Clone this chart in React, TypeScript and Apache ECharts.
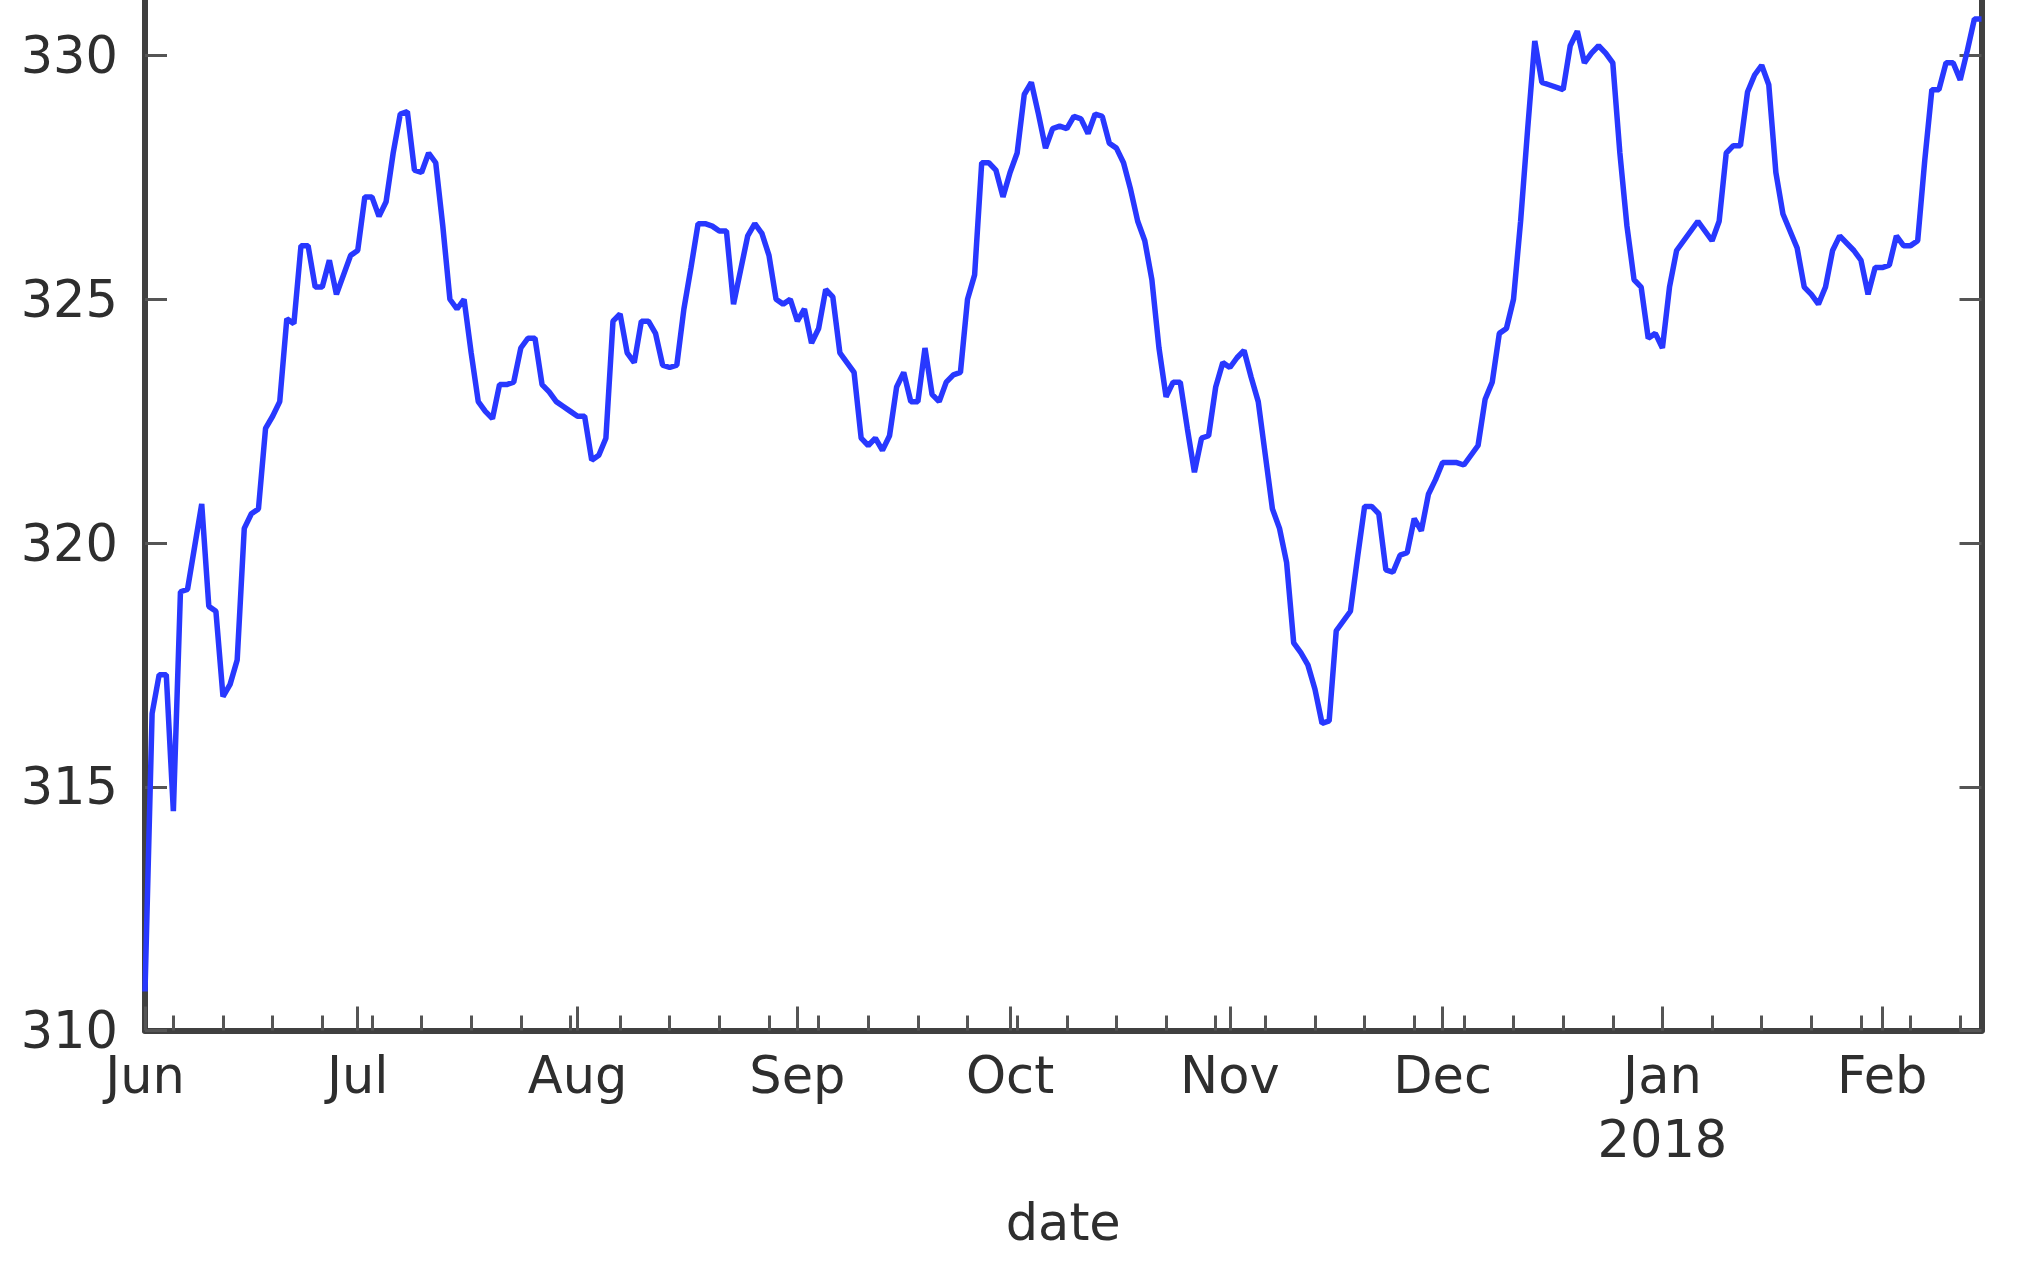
import React, { useEffect, useRef } from "react";
import * as echarts from "echarts";

// ---------- data ----------
const startDate = "2017-06-01";
const endDate = "2018-02-15";
const monthNames = ["Jan", "Feb", "Mar", "Apr", "May", "Jun", "Jul", "Aug", "Sep", "Oct", "Nov", "Dec"];
const yMin = 310;
const yMax = 335;
const yStep = 5;

const dates = [
  "2017-06-01", "2017-06-02", "2017-06-03", "2017-06-04", "2017-06-05", "2017-06-06", "2017-06-07", "2017-06-09",
  "2017-06-10", "2017-06-11", "2017-06-12", "2017-06-13", "2017-06-14", "2017-06-15", "2017-06-16", "2017-06-17",
  "2017-06-18", "2017-06-19", "2017-06-20", "2017-06-21", "2017-06-22", "2017-06-23", "2017-06-24", "2017-06-25",
  "2017-06-26", "2017-06-27", "2017-06-28", "2017-06-30",
  "2017-07-01", "2017-07-02", "2017-07-03", "2017-07-04", "2017-07-05", "2017-07-06", "2017-07-07", "2017-07-08",
  "2017-07-09", "2017-07-10", "2017-07-11", "2017-07-12", "2017-07-13", "2017-07-14", "2017-07-15", "2017-07-16",
  "2017-07-17", "2017-07-18", "2017-07-19", "2017-07-20", "2017-07-21", "2017-07-22", "2017-07-23", "2017-07-24",
  "2017-07-25", "2017-07-26", "2017-07-27", "2017-07-28", "2017-07-29", "2017-07-30", "2017-07-31",
  "2017-08-01", "2017-08-02", "2017-08-03", "2017-08-04", "2017-08-05", "2017-08-06", "2017-08-07", "2017-08-08",
  "2017-08-09", "2017-08-10", "2017-08-11", "2017-08-12", "2017-08-13", "2017-08-14", "2017-08-15", "2017-08-16",
  "2017-08-17", "2017-08-18", "2017-08-19", "2017-08-20", "2017-08-21", "2017-08-22", "2017-08-23", "2017-08-24",
  "2017-08-25", "2017-08-26", "2017-08-27", "2017-08-28", "2017-08-29", "2017-08-30", "2017-08-31",
  "2017-09-01", "2017-09-02", "2017-09-03", "2017-09-04", "2017-09-05", "2017-09-06", "2017-09-07", "2017-09-08",
  "2017-09-09", "2017-09-10", "2017-09-11", "2017-09-12", "2017-09-13", "2017-09-14", "2017-09-15", "2017-09-16",
  "2017-09-17", "2017-09-18", "2017-09-19", "2017-09-20", "2017-09-21", "2017-09-22", "2017-09-23", "2017-09-24",
  "2017-09-25", "2017-09-26", "2017-09-27", "2017-09-28", "2017-09-29", "2017-09-30",
  "2017-10-01", "2017-10-02", "2017-10-03", "2017-10-04", "2017-10-05", "2017-10-06", "2017-10-07", "2017-10-08",
  "2017-10-09", "2017-10-10", "2017-10-11", "2017-10-12", "2017-10-13", "2017-10-14", "2017-10-15", "2017-10-16",
  "2017-10-17", "2017-10-18", "2017-10-19", "2017-10-20", "2017-10-21", "2017-10-22", "2017-10-23", "2017-10-24",
  "2017-10-25", "2017-10-26", "2017-10-27", "2017-10-28", "2017-10-29", "2017-10-30", "2017-10-31",
  "2017-11-01", "2017-11-02", "2017-11-03", "2017-11-04", "2017-11-05", "2017-11-06", "2017-11-07", "2017-11-08",
  "2017-11-09", "2017-11-10", "2017-11-11", "2017-11-12", "2017-11-13", "2017-11-14", "2017-11-15", "2017-11-16",
  "2017-11-17", "2017-11-18", "2017-11-19", "2017-11-20", "2017-11-21", "2017-11-22", "2017-11-23", "2017-11-24",
  "2017-11-25", "2017-11-26", "2017-11-27", "2017-11-28", "2017-11-29", "2017-11-30",
  "2017-12-01", "2017-12-03", "2017-12-04", "2017-12-05", "2017-12-06", "2017-12-07", "2017-12-08", "2017-12-09",
  "2017-12-10", "2017-12-11", "2017-12-12", "2017-12-13", "2017-12-14", "2017-12-15", "2017-12-16", "2017-12-18",
  "2017-12-19", "2017-12-20", "2017-12-21", "2017-12-22", "2017-12-23", "2017-12-24", "2017-12-25", "2017-12-26",
  "2017-12-27", "2017-12-28", "2017-12-29", "2017-12-30", "2017-12-31",
  "2018-01-01", "2018-01-02", "2018-01-03", "2018-01-05", "2018-01-06", "2018-01-08", "2018-01-09", "2018-01-10",
  "2018-01-11", "2018-01-12", "2018-01-13", "2018-01-14", "2018-01-15", "2018-01-16", "2018-01-17", "2018-01-18",
  "2018-01-20", "2018-01-21", "2018-01-22", "2018-01-23", "2018-01-24", "2018-01-25", "2018-01-26", "2018-01-28",
  "2018-01-29", "2018-01-30", "2018-01-31",
  "2018-02-01", "2018-02-02", "2018-02-03", "2018-02-04", "2018-02-05", "2018-02-06", "2018-02-07", "2018-02-08",
  "2018-02-09", "2018-02-10", "2018-02-11", "2018-02-12", "2018-02-13", "2018-02-14", "2018-02-15",
];

const values = [
  // Jun
  310.8, 316.5, 317.3, 317.3, 314.5, 319.0, 319.05, 320.8,
  318.7, 318.6, 316.85, 317.1, 317.6, 320.3, 320.6, 320.7,
  322.35, 322.6, 322.9, 324.6, 324.5, 326.1, 326.1, 325.25,
  325.25, 325.8, 325.1, 325.9,
  // Jul
  326.0, 327.1, 327.1, 326.7, 327.0, 328.0, 328.8, 328.85,
  327.65, 327.6, 328.0, 327.8, 326.5, 325.0, 324.8, 325.0,
  323.9, 322.9, 322.7, 322.55, 323.25, 323.25, 323.3, 324.0,
  324.2, 324.2, 323.25, 323.1, 322.9, 322.8, 322.7,
  // Aug
  322.6, 322.6, 321.7, 321.8, 322.15, 324.55, 324.7, 323.9,
  323.7, 324.55, 324.55, 324.3, 323.65, 323.6, 323.65, 324.8,
  325.65, 326.55, 326.55, 326.5, 326.4, 326.4, 324.9, 325.6,
  326.3, 326.55, 326.35, 325.9, 325.0, 324.9, 325.0,
  // Sep
  324.55, 324.8, 324.1, 324.4, 325.2, 325.05, 323.9, 323.7,
  323.5, 322.15, 322.0, 322.15, 321.9, 322.2, 323.2, 323.5,
  322.9, 322.9, 324.0, 323.05, 322.9, 323.3, 323.45, 323.5,
  325.0, 325.5, 327.8, 327.8, 327.65, 327.1,
  // Oct
  327.6, 328.0, 329.2, 329.45, 328.8, 328.1, 328.5, 328.55,
  328.5, 328.75, 328.7, 328.4, 328.8, 328.75, 328.2, 328.1,
  327.8, 327.25, 326.6, 326.2, 325.4, 324.0, 323.0, 323.3,
  323.3, 322.35, 321.45, 322.15, 322.2, 323.2, 323.7,
  // Nov
  323.6, 323.8, 323.95, 323.4, 322.9, 321.8, 320.7, 320.3,
  319.6, 317.95, 317.75, 317.5, 317.0, 316.3, 316.35, 318.2,
  318.4, 318.6, 319.7, 320.75, 320.75, 320.6, 319.45, 319.4,
  319.75, 319.8, 320.5, 320.25, 321.0, 321.3,
  // Dec
  321.65, 321.65, 321.6, 321.8, 322.0, 322.95, 323.3, 324.3,
  324.4, 325.0, 326.6, 328.5, 330.3, 329.45, 329.4, 329.3,
  330.2, 330.5, 329.85, 330.05, 330.2, 330.05, 329.85, 328.0,
  326.5, 325.4, 325.25, 324.2, 324.3,
  // Jan
  324.0, 325.25, 326.0, 326.4, 326.6, 326.2, 326.6, 328.0,
  328.15, 328.15, 329.25, 329.6, 329.8, 329.4, 327.6, 326.75,
  326.05, 325.25, 325.1, 324.9, 325.25, 326.0, 326.3, 326.0,
  325.8, 325.1, 325.65,
  // Feb
  325.65, 325.7, 326.3, 326.1, 326.1, 326.2, 327.85, 329.3,
  329.3, 329.85, 329.85, 329.5, 330.1, 330.75, 330.75,
];

// ---------- helpers ----------
const DAY = 86400000;
const toUTC = (s: string) => {
  const [y, m, d] = s.split("-").map(Number);
  return Date.UTC(y, m - 1, d);
};
const t0 = toUTC(startDate);
const nDays = Math.round((toUTC(endDate) - t0) / DAY) + 1;
const dayCategories: string[] = [];
for (let i = 0; i < nDays; i++) {
  const dt = new Date(t0 + i * DAY);
  dayCategories.push(dt.toISOString().slice(0, 10));
}
const isMonthStart = (s: string) => s.slice(8, 10) === "01";
const isMonday = (s: string) => new Date(toUTC(s)).getUTCDay() === 1;
const monthLabel = (s: string) => {
  const m = Number(s.slice(5, 7));
  const name = monthNames[m - 1];
  return m === 1 ? name + "\n" + s.slice(0, 4) : name;
};

const seriesData = dates.map((d, i) => [Math.round((toUTC(d) - t0) / DAY), values[i]]);

const FONT = "DejaVu Sans";
const TEXT = "#2e2e2e";
const SPINE = "#404040";
const TICK = "#555555";

export default function App() {
  const ref = useRef<HTMLDivElement>(null);

  useEffect(() => {
    if (!ref.current) return;
    const chart = echarts.init(ref.current, undefined, { renderer: "svg" });
    chart.setOption({
      animation: false,
      backgroundColor: "#ffffff",
      grid: {
        left: 145,
        right: 42.5,
        top: 11.75,
        bottom: 257.5,
        containLabel: false,
        outerBoundsMode: "none",
      },
      xAxis: [
        {
          type: "category",
          data: dayCategories,
          boundaryGap: false,
          position: "bottom",
          axisLine: { show: true, lineStyle: { color: SPINE, width: 6 } },
          axisTick: {
            show: true,
            inside: true,
            length: 24,
            interval: (_i: number, v: string) => isMonthStart(v),
            lineStyle: { color: TICK, width: 3 },
          },
          axisLabel: {
            show: true,
            interval: (_i: number, v: string) => isMonthStart(v),
            formatter: (v: string) => monthLabel(v),
            fontFamily: FONT,
            fontSize: 51,
            lineHeight: 64,
            color: TEXT,
            margin: 13,
          },
          splitLine: { show: false },
          name: "date",
          nameLocation: "middle",
          nameGap: 166,
          nameTextStyle: { fontFamily: FONT, fontSize: 51, lineHeight: 51, color: TEXT },
        },
        {
          type: "category",
          data: dayCategories,
          boundaryGap: false,
          position: "bottom",
          axisLine: { show: false },
          axisTick: {
            show: true,
            inside: true,
            length: 15,
            interval: (_i: number, v: string) => isMonday(v),
            lineStyle: { color: TICK, width: 3 },
          },
          axisLabel: { show: false },
          splitLine: { show: false },
        },
        {
          type: "value",
          show: false,
          min: 0,
          max: nDays - 1,
          splitLine: { show: false },
        },
      ],
      yAxis: [
        {
          type: "value",
          position: "left",
          min: yMin,
          max: yMax,
          interval: yStep,
          axisLine: { show: true, lineStyle: { color: SPINE, width: 6 } },
          axisTick: { show: true, inside: true, length: 22, lineStyle: { color: TICK, width: 3 } },
          axisLabel: {
            show: true,
            showMaxLabel: false,
            fontFamily: FONT,
            fontSize: 51,
            color: TEXT,
            margin: 27,
            formatter: (v: number) => (v >= yMax ? "" : String(Math.round(v))),
          },
          splitLine: { show: false },
        },
        {
          type: "value",
          position: "right",
          min: yMin,
          max: yMax,
          interval: yStep,
          axisLine: { show: true, lineStyle: { color: SPINE, width: 6 } },
          axisTick: { show: true, inside: true, length: 22, lineStyle: { color: TICK, width: 3 } },
          axisLabel: { show: false },
          splitLine: { show: false },
        },
      ],
      series: [
        {
          type: "line",
          xAxisIndex: 2,
          yAxisIndex: 0,
          data: seriesData,
          showSymbol: false,
          symbol: "none",
          lineStyle: { color: "#2838ff", width: 5.5 },
          emphasis: { disabled: true },
        },
      ],
    });
    return () => chart.dispose();
  }, []);

  return (
    <div
      style={{
        position: "absolute",
        left: 0,
        top: 0,
        width: 2024,
        height: 1288,
        overflow: "hidden",
        background: "#ffffff",
      }}
    >
      <div ref={ref} style={{ position: "absolute", left: 0, top: -200, width: 2024, height: 1488 }} />
    </div>
  );
}
